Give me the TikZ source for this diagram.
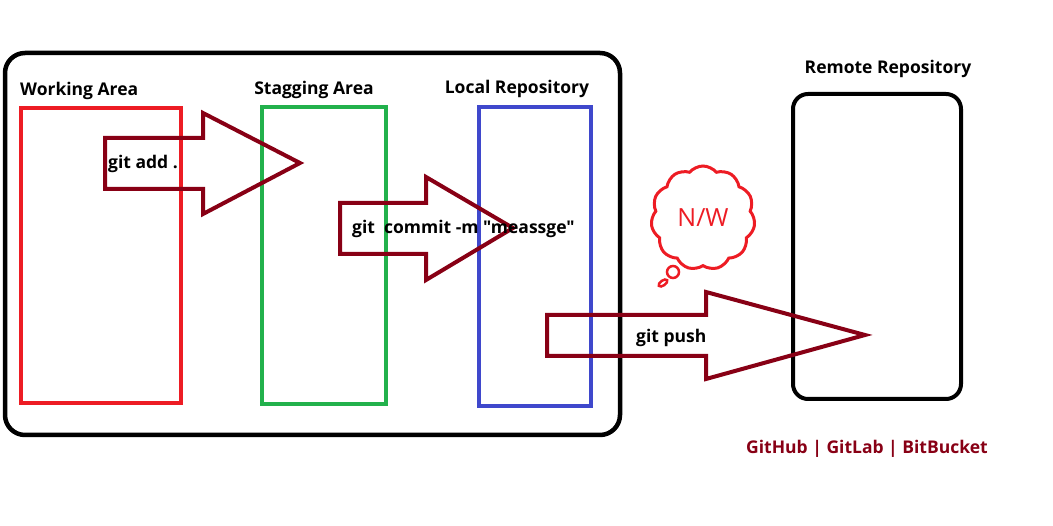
\documentclass[tikz,border=0pt]{standalone}
\usepackage{fontspec}
\setmainfont{Open Sans}[Ligatures=TeXOff]
\usetikzlibrary{shapes.symbols,shapes.geometric}

\definecolor{wred}{HTML}{ED1C24}
\definecolor{sgreen}{HTML}{22B14C}
\definecolor{lblue}{HTML}{3F48CC}
\definecolor{darkred}{HTML}{880015}

\tikzset{
  areabox/.style={draw,line width=4pt,inner sep=0pt},
  arealabel/.style={font=\bfseries\fontsize{17.5}{20}\selectfont,inner sep=0pt},
  blockarrow/.style={draw=darkred,line width=4pt,line join=miter},
  cmdlabel/.style={font=\bfseries\fontsize{17.5}{20}\selectfont,inner sep=0pt,anchor=west}
}

\begin{document}
\begin{tikzpicture}[x=1pt,y=-1pt]
	\useasboundingbox (0,0) rectangle (1053,526);
	% local machine
	\draw[line width=4.5pt,rounded corners=20pt] (5,53) rectangle (620,435);
	\node[areabox,draw=wred,minimum width=160pt,minimum height=295pt,anchor=north west] (WA) at (19,106) {};
	\node[areabox,draw=sgreen,minimum width=124pt,minimum height=297pt,anchor=north west] (SA) at (260,105) {};
	\node[areabox,draw=lblue,minimum width=112pt,minimum height=299pt,anchor=north west] (LR) at (477,105) {};
	\node[arealabel,anchor=west] (WAl) at (20,91) {Working Area};
	\node[arealabel] (SAl) at (314,90) {Stagging Area};
	\node[arealabel] (LRl) at (517,89) {Local Repository};
	% remote
	\node[areabox,draw=black,rounded corners=15pt,minimum width=168pt,minimum height=305pt,anchor=north west] (RR) at (791,92) {};
	\node[arealabel] (RRl) at (888,69) {Remote Repository};
	\node[arealabel,text=darkred] (hosts) at (867,449) {GitHub | GitLab | BitBucket};
	% arrows
	\draw[blockarrow] (105,138) -- (203,138) -- (203,113) -- (300,163) -- (203,214) -- (203,189) -- (105,189) -- cycle;
	\draw[blockarrow] (340,203) -- (426,203) -- (426,177) -- (513,228) -- (426,280) -- (426,254) -- (340,254) -- cycle;
	\draw[blockarrow] (547,315) -- (706,315) -- (706,292) -- (865,335) -- (706,379) -- (706,356) -- (547,356) -- cycle;
	\node[cmdlabel] (add) at (108,164) {git add .};
	\node[cmdlabel] (commit) at (352,229) {git\ \ commit -m "meassge"};
	\node[cmdlabel] (push) at (636,338) {git push};
	% network
	\node[cloud,draw=wred,line width=3pt,cloud puffs=11,cloud puff arc=100,minimum width=104pt,minimum height=104pt,text=wred,font=\fontsize{25}{28}\selectfont] (nw) at (703,218) {N/W};
	\node[circle,draw=wred,line width=2.5pt,minimum size=12pt,inner sep=0pt] (b1) at (673,272) {};
	\node[ellipse,draw=wred,line width=2.5pt,minimum width=10pt,minimum height=5pt,inner sep=0pt,rotate=35] (b2) at (663,283) {};
\end{tikzpicture}
\end{document}
